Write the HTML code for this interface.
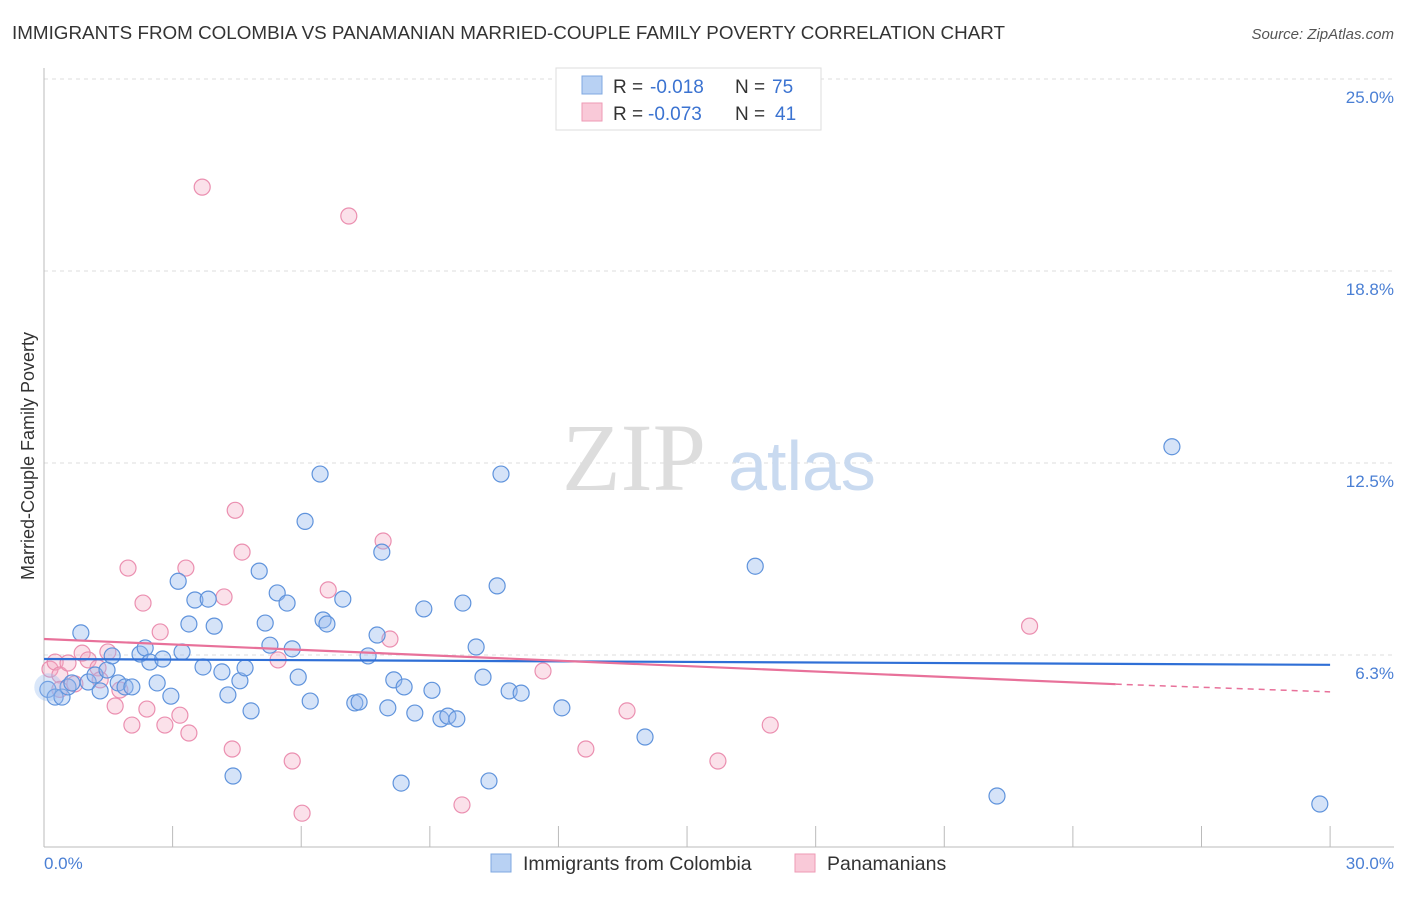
<!DOCTYPE html>
<html><head><meta charset="utf-8"><style>
body{margin:0;background:#fff;font-family:"Liberation Sans",sans-serif;}
svg text{font-family:"Liberation Sans",sans-serif;}
</style></head><body>
<svg id="chart" width="1406" height="892" viewBox="0 0 1406 892" xmlns="http://www.w3.org/2000/svg">
<text x="12" y="39" font-size="18" fill="#333" textLength="993" lengthAdjust="spacingAndGlyphs">IMMIGRANTS FROM COLOMBIA VS PANAMANIAN MARRIED-COUPLE FAMILY POVERTY CORRELATION CHART</text>
<text x="1394" y="39" font-size="15" fill="#555" text-anchor="end" font-style="italic">Source: ZipAtlas.com</text>
<g id="grid"></g>
<text x="634" y="490" font-size="96" fill="#ddd" text-anchor="middle" style="font-family:'Liberation Serif',serif">ZIP</text>
<text x="802" y="490" font-size="70" fill="#c9daf0" text-anchor="middle">atlas</text>
<g id="pts"></g>
<g id="trend"></g>
<text transform="translate(34,456) rotate(-90)" font-size="18" fill="#333" text-anchor="middle">Married-Couple Family Poverty</text>
<text x="44" y="869" font-size="17" fill="#4a7fd4">0.0%</text>
<text x="1394" y="869" font-size="17" fill="#4a7fd4" text-anchor="end">30.0%</text>
<g>
<rect x="556" y="68" width="265" height="62" fill="#fff" stroke="#ddd"/>
<rect x="582" y="76" width="20" height="18" fill="#b8d1f3" stroke="#7fa8e0"/>
<rect x="582" y="103" width="20" height="18" fill="#f9c9d8" stroke="#ee9ab5"/>
<text x="613" y="93" font-size="19" fill="#333">R =</text>
<text x="650" y="93" font-size="19" fill="#3b73d1">-0.018</text>
<text x="735" y="93" font-size="19" fill="#333">N =</text>
<text x="772" y="93" font-size="19" fill="#3b73d1">75</text>
<text x="613" y="120" font-size="19" fill="#333">R =</text>
<text x="648" y="120" font-size="19" fill="#3b73d1">-0.073</text>
<text x="735" y="120" font-size="19" fill="#333">N =</text>
<text x="775" y="120" font-size="19" fill="#3b73d1">41</text>
</g>
<g>
<rect x="491" y="854" width="20" height="18" fill="#b8d1f3" stroke="#7fa8e0"/>
<text x="523" y="870" font-size="19.5" fill="#333">Immigrants from Colombia</text>
<rect x="795" y="854" width="20" height="18" fill="#f9c9d8" stroke="#ee9ab5"/>
<text x="827" y="870" font-size="19.5" fill="#333">Panamanians</text>
</g>
</svg>
<script>
const yTicks=[25,18.75,12.5,6.25];
const yTickLabels=["25.0%","18.8%","12.5%","6.3%"];
const xTicks=[0,3,6,9,12,15,18,21,24,27,30];
const blueX=[0.09,0.26,0.42,0.56,0.65,0.86,1.03,1.19,1.31,1.47,1.59,1.73,1.89,2.05,2.24,2.36,2.47,2.64,2.77,2.96,3.13,3.22,3.38,3.52,3.71,3.83,3.97,4.15,4.29,4.41,4.57,4.69,4.83,5.02,5.16,5.27,5.44,5.67,5.79,5.93,6.09,6.21,6.44,6.51,6.6,6.97,7.25,7.35,7.56,7.77,7.88,8.02,8.16,8.33,8.4,8.65,8.86,9.05,9.26,9.42,9.63,9.77,10.08,10.24,10.38,10.57,10.66,10.85,11.13,12.08,14.02,16.59,22.23,26.31,29.76];
const blueY=[5.13,4.88,4.88,5.21,5.34,6.97,5.37,5.6,5.08,5.76,6.22,5.34,5.21,5.21,6.28,6.48,6.02,5.34,6.12,4.91,8.65,6.35,7.26,8.04,5.86,8.07,7.19,5.7,4.95,2.31,5.41,5.83,4.43,8.98,7.29,6.57,8.27,7.94,6.45,5.53,10.6,4.75,12.14,7.39,7.26,8.07,4.69,4.72,6.22,6.9,9.6,4.53,5.44,2.08,5.21,4.36,7.75,5.1,4.17,4.26,4.17,7.94,6.51,5.53,2.15,8.5,12.14,5.08,5.01,4.53,3.58,9.14,1.66,13.03,1.4];
const pinkX=[0.14,0.26,0.37,0.56,0.72,0.89,1.03,1.26,1.49,1.66,1.77,1.96,2.05,2.31,2.4,2.71,2.82,3.17,3.31,3.38,3.69,4.2,4.39,4.46,4.62,5.46,5.79,6.02,6.63,7.11,7.91,8.07,9.75,11.64,12.64,13.6,15.72,16.94,22.99,1.31,0.37];
const pinkY=[5.79,6.02,5.6,5.99,5.31,6.31,6.09,5.83,6.35,4.59,5.11,9.08,3.97,7.94,4.49,7.0,3.97,4.29,9.08,3.71,21.48,8.14,3.19,10.96,9.6,6.09,2.8,1.1,8.37,20.54,9.96,6.77,1.37,5.73,3.19,4.43,2.8,3.97,7.19,5.44,5.13];
const blueTrend=[6.12,5.93];
const pinkTrend=[6.77,5.3,5.05];
const NS="http://www.w3.org/2000/svg";
const X=v=>44+v*42.87, Y=v=>847-v*30.72;
function mk(t,a,p){const e=document.createElementNS(NS,t);for(const k in a)e.setAttribute(k,a[k]);p.appendChild(e);return e;}
const g=document.getElementById('grid');
yTicks.forEach((v,i)=>{
 const l=mk('line',{x1:44,x2:1394,y1:Y(v),y2:Y(v),stroke:'#ddd','stroke-dasharray':'4,4'},g);
 
 
 const t=mk('text',{x:1394,y:Y(v)+24,'font-size':17,fill:'#4a7fd4','text-anchor':'end'},g);
 t.textContent=yTickLabels[i];
 
 
});
const ax=mk('line',{x1:44,x2:44,y1:68,y2:847,stroke:'#bbb'},g);


const bx=mk('line',{x1:44,x2:1394,y1:847,y2:847,stroke:'#bbb'},g);


xTicks.forEach(v=>{
 const l=mk('line',{x1:X(v),x2:X(v),y1:826,y2:847,stroke:'#bbb'},g);
 
 
});
const p=document.getElementById('pts');
pinkX.forEach((v,i)=>{
 const c=mk('circle',{cx:X(v),cy:Y(pinkY[i]),r:8,fill:'rgba(244,170,195,0.35)',stroke:'#eb8fb0','stroke-width':1.2},p);
 
 
});
blueX.forEach((v,i)=>{
 const c=mk('circle',{cx:X(v),cy:Y(blueY[i]),r:8,fill:'rgba(150,186,238,0.4)',stroke:'#5f93dc','stroke-width':1.2},p);
 
 
});
const big=mk('circle',{cx:X(0.1),cy:Y(5.2),r:14,fill:'rgba(150,186,238,0.35)',stroke:'none'},p);


const tr=document.getElementById('trend');
const b=mk('line',{x1:X(0),y1:Y(blueTrend[0]),x2:X(30),y2:Y(blueTrend[1]),stroke:'#2f6fd6','stroke-width':2.2},tr);


const pk=mk('line',{x1:X(0),y1:Y(pinkTrend[0]),x2:X(25),y2:Y(pinkTrend[1]),stroke:'#e8719a','stroke-width':2.2},tr);


const pd=mk('line',{x1:X(25),y1:Y(pinkTrend[1]),x2:X(30),y2:Y(pinkTrend[2]),stroke:'#e8719a','stroke-width':1.5,'stroke-dasharray':'6,5'},tr);


</script>
</body></html>
